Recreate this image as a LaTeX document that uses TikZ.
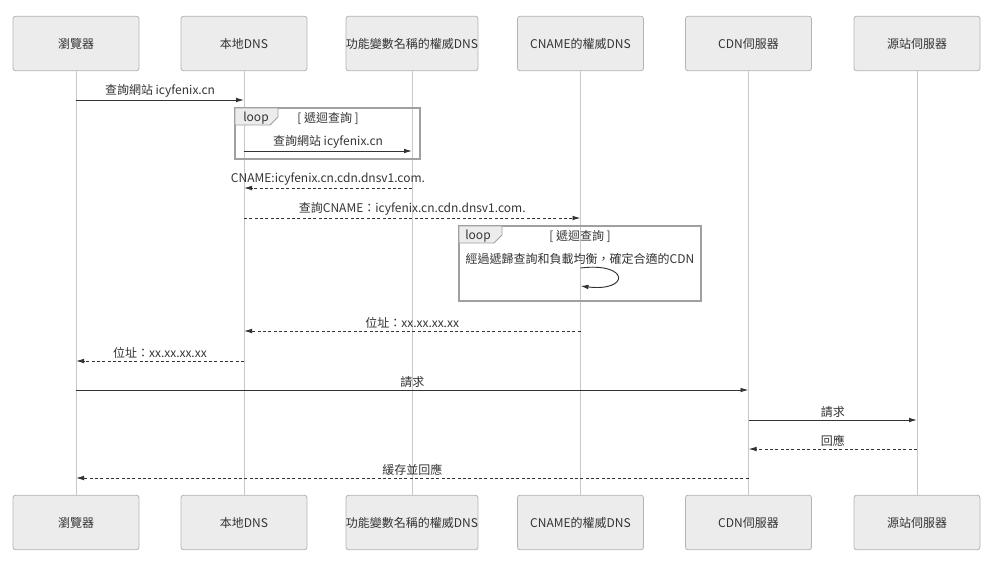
\documentclass[tikz,border=0pt]{standalone}
\usepackage{fontspec}
\setmainfont{Noto Sans CJK TC}
\usepackage{tikz}
\usetikzlibrary{arrows.meta,calc}
\definecolor{actorfill}{HTML}{ECECEC}
\definecolor{actorline}{HTML}{B4B4B4}
\definecolor{lifegrey}{HTML}{C8C8C8}
\definecolor{msgdark}{HTML}{333333}
\definecolor{loopline}{HTML}{A0A0A0}

\begin{document}
\begin{tikzpicture}[
    x=0.75pt, y=-0.75pt,
    every node/.style={font=\fontsize{9}{11}\selectfont, text=msgdark},
    actor/.style={draw=actorline, fill=actorfill, rounded corners=2pt, line width=0.6pt, minimum width=94.5pt, minimum height=41pt, inner sep=0pt},
    lifeline/.style={draw=lifegrey, line width=0.6pt},
    msg/.style={draw=msgdark, line width=0.7pt, -{Latex[length=6pt,width=3.5pt]}},
    reply/.style={msg, dashed, dash pattern=on 2.2pt off 1.8pt},
    lbl/.style={above, inner sep=1.5pt},
    loopbox/.style={draw=loopline, line width=0.9pt},
    looptag/.style={draw=loopline, fill=actorfill, line width=0.6pt}
]
\useasboundingbox (0,0) rectangle (1005,564);

% participants, top
\node[actor] (browser) at (76,43.5) {瀏覽器};
\node[actor] (local) at (244,43.5) {本地DNS};
\node[actor] (func) at (412,43.5) {功能變數名稱的權威DNS};
\node[actor] (cname) at (580.5,43.5) {CNAME的權威DNS};
\node[actor] (cdn) at (748.5,43.5) {CDN伺服器};
\node[actor] (origin) at (917,43.5) {源站伺服器};

% participants, bottom
\node[actor] (browserB) at (76,522.5) {瀏覽器};
\node[actor] (localB) at (244,522.5) {本地DNS};
\node[actor] (funcB) at (412,522.5) {功能變數名稱的權威DNS};
\node[actor] (cnameB) at (580.5,522.5) {CNAME的權威DNS};
\node[actor] (cdnB) at (748.5,522.5) {CDN伺服器};
\node[actor] (originB) at (917,522.5) {源站伺服器};

% lifelines
\foreach \p in {browser,local,func,cname,cdn,origin}
    \draw[lifeline] (\p.south) -- (\p B.north);

% loop frames
\draw[loopbox] (235,108) rectangle (420,159);
\draw[looptag] (235,108) -- (278,108) -- (278,117) -- (270,125) -- (235,125) -- cycle;
\node at (256,118) {loop};
\node at (328,118) {[ 遞迴查詢 ]};

\draw[loopbox] (459,226) rectangle (701,301);
\draw[looptag] (459,226) -- (502,226) -- (502,235) -- (494,243) -- (459,243) -- cycle;
\node at (478,236) {loop};
\node at (580,236) {[ 遞迴查詢 ]};

% messages
\draw[msg] (browser |- 0,100) -- node[lbl] {查詢網站 icyfenix.cn} (local |- 0,100);
\draw[msg] (local |- 0,151) -- node[lbl] {查詢網站 icyfenix.cn} (func |- 0,151);
\draw[reply] (func |- 0,188) -- node[lbl] {CNAME:icyfenix.cn.cdn.dnsv1.com.} (local |- 0,188);
\draw[reply] (local |- 0,218) -- node[lbl] {查詢CNAME：icyfenix.cn.cdn.dnsv1.com.} (cname |- 0,218);
\node at (580,259) {經過遞歸查詢和負載均衡，確定合適的CDN};
\draw[msg] (cname |- 0,268) .. controls (630,262) and (630,292) .. (cname |- 0,286);
\draw[reply] (cname |- 0,331) -- node[lbl] {位址：xx.xx.xx.xx} (local |- 0,331);
\draw[reply] (local |- 0,361) -- node[lbl] {位址：xx.xx.xx.xx} (browser |- 0,361);
\draw[msg] (browser |- 0,390) -- node[lbl] {請求} (cdn |- 0,390);
\draw[msg] (cdn |- 0,420) -- node[lbl] {請求} (origin |- 0,420);
\draw[reply] (origin |- 0,449) -- node[lbl] {回應} (cdn |- 0,449);
\draw[reply] (cdn |- 0,478) -- node[lbl] {緩存並回應} (browser |- 0,478);
\end{tikzpicture}
\end{document}
